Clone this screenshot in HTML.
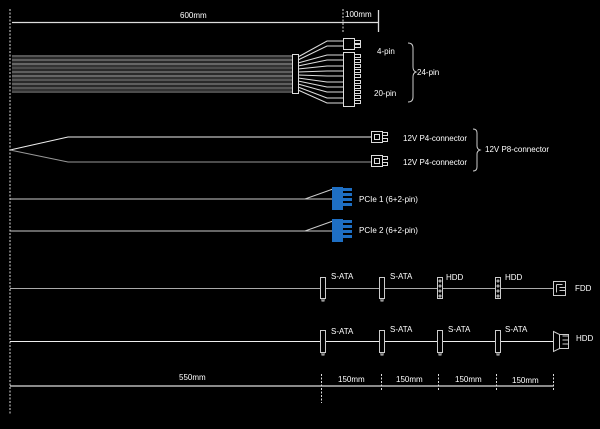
<!DOCTYPE html>
<html><head><style>
html,body{margin:0;padding:0;background:#000;}
svg{display:block}
text{font-family:"Liberation Sans",sans-serif;font-size:8px;fill:#fff;}
</style></head><body>
<svg width="600" height="429" viewBox="0 0 600 429" xmlns="http://www.w3.org/2000/svg">
<g stroke="#ddd" fill="none">
<line x1="10" y1="9" x2="10" y2="414" stroke-dasharray="2,1.5" stroke-width="1"/>
<line x1="12" y1="22.5" x2="378" y2="22.5" stroke-width="1.3"/>
<line x1="343" y1="9" x2="343" y2="32" stroke-dasharray="2,1.5"/>
<line x1="378.5" y1="10" x2="378.5" y2="32" stroke-width="1.3"/>
</g>
<text x="180" y="18">600mm</text>
<text x="345" y="17">100mm</text>
<g stroke-width="1">
<line x1="12" y1="56" x2="293" y2="56" stroke="#aaa"/>
<line x1="12" y1="58" x2="293" y2="58" stroke="#555"/>
<line x1="12" y1="60" x2="293" y2="60" stroke="#bbb"/>
<line x1="12" y1="62" x2="293" y2="62" stroke="#555"/>
<line x1="12" y1="64" x2="293" y2="64" stroke="#ccc"/>
<line x1="12" y1="66" x2="293" y2="66" stroke="#666"/>
<line x1="12" y1="68" x2="293" y2="68" stroke="#999"/>
<line x1="12" y1="70" x2="293" y2="70" stroke="#555"/>
<line x1="12" y1="72" x2="293" y2="72" stroke="#bbb"/>
<line x1="12" y1="74" x2="293" y2="74" stroke="#555"/>
<line x1="12" y1="76" x2="293" y2="76" stroke="#ccc"/>
<line x1="12" y1="78" x2="293" y2="78" stroke="#666"/>
<line x1="12" y1="80" x2="293" y2="80" stroke="#aaa"/>
<line x1="12" y1="82" x2="293" y2="82" stroke="#555"/>
<line x1="12" y1="84" x2="293" y2="84" stroke="#bbb"/>
<line x1="12" y1="86" x2="293" y2="86" stroke="#555"/>
<line x1="12" y1="88" x2="293" y2="88" stroke="#aaa"/>
<line x1="12" y1="90" x2="293" y2="90" stroke="#666"/>
<line x1="12" y1="92" x2="293" y2="92" stroke="#999"/>
</g>
<g stroke="#ddd" fill="none" stroke-width="1">
<rect x="292.5" y="54.5" width="6" height="39"/>
<path d="M298,57 L327,41 H343 M298,60 L327,46 H343"/>
<path d="M298,63 L327,55 H343 M298,66 L327,60 H343 M298,69 L327,66 H343 M298,72 L327,71 H343 M298,75 L327,76 H343 M298,78 L327,82 H343 M298,81 L327,87 H343 M298,84 L327,92 H343 M298,87 L327,98 H343 M298,90 L327,103 H343"/>
<rect x="343.5" y="38.5" width="11" height="11"/>
<rect x="343.5" y="52.5" width="11" height="54"/>
<path d="M354.5,40.5 h6 v3 h-6 M354.5,44.5 h6 v3 h-6"/>
<path d="M354.5,54.5 h6 v3 h-6 M354.5,59.5 h6 v3 h-6 M354.5,64.5 h6 v3 h-6 M354.5,69.5 h6 v3 h-6 M354.5,74.5 h6 v3 h-6 M354.5,80.5 h6 v3 h-6 M354.5,85.5 h6 v3 h-6 M354.5,90.5 h6 v3 h-6 M354.5,95.5 h6 v3 h-6 M354.5,100.5 h6 v3 h-6"/>
<path d="M408,43 q5,0 5,5 v19 q0,4 3,5 q-3,1 -3,5 v20 q0,5 -5,5" stroke="#ccc"/>
</g>
<text x="377" y="54">4-pin</text>
<text x="374" y="96">20-pin</text>
<text x="417" y="75">24-pin</text>
<g stroke="#ddd" fill="none" stroke-width="1">
<path d="M10,150 L68,137 H371" stroke="#eee"/>
<path d="M10,150 L68,162 H371" stroke="#999"/>
<rect x="371.5" y="131.5" width="11" height="11"/><rect x="374.5" y="134.5" width="5" height="5"/>
<path d="M382.5,132.5 h5 v3 h-5 M382.5,138.5 h5 v3 h-5"/>
<rect x="371.5" y="155.5" width="11" height="11"/><rect x="374.5" y="158.5" width="5" height="5"/>
<path d="M382.5,156.5 h5 v3 h-5 M382.5,162.5 h5 v3 h-5"/>
<path d="M473,129 q4,0 4,4 v13 q0,3 3,4 q-3,1 -3,4 v13 q0,4 -4,4" stroke="#ccc"/>
</g>
<text x="403" y="141">12V P4-connector</text>
<text x="403" y="165">12V P4-connector</text>
<text x="485" y="152">12V P8-connector</text>
<g stroke="#ccc" fill="none" stroke-width="1">
<path d="M10,199 H305 L333,189"/>
<path d="M305,199 H333" />
<path d="M10,231 H305 L333,221"/>
<path d="M305,231 H333"/>
</g>
<g fill="#1e6fc4">
<rect x="332" y="187" width="11" height="23"/>
<rect x="343" y="188" width="9" height="3"/><rect x="343" y="193" width="9" height="3"/><rect x="343" y="198" width="9" height="3"/><rect x="343" y="203" width="9" height="3"/>
<rect x="332" y="219" width="11" height="23"/>
<rect x="343" y="220" width="9" height="3"/><rect x="343" y="225" width="9" height="3"/><rect x="343" y="230" width="9" height="3"/><rect x="343" y="235" width="9" height="3"/>
</g>
<text x="359" y="202">PCIe 1 (6+2-pin)</text>
<text x="359" y="233">PCIe 2 (6+2-pin)</text>
<g stroke="#ccc" fill="none" stroke-width="1">
<line x1="10" y1="288.5" x2="553" y2="288.5" stroke="#aaa"/>
<rect x="320.5" y="277.5" width="5" height="21" fill="#000"/><path d="M322,299 v2 h2 v-2"/>
<rect x="379.5" y="277.5" width="5" height="21" fill="#000"/><path d="M381,299 v2 h2 v-2"/>
<rect x="437.5" y="277.5" width="5" height="21" fill="#000"/>
<circle cx="440" cy="281" r="1"/><circle cx="440" cy="286" r="1"/><circle cx="440" cy="291" r="1"/><circle cx="440" cy="296" r="1"/>
<rect x="495.5" y="277.5" width="5" height="21" fill="#000"/>
<circle cx="498" cy="281" r="1"/><circle cx="498" cy="286" r="1"/><circle cx="498" cy="291" r="1"/><circle cx="498" cy="296" r="1"/>
<rect x="553.5" y="281.5" width="12" height="14" fill="#000"/>
<path d="M556.5,284.5 h6 M556.5,284.5 v8 M559.5,287.5 h6 M559.5,290.5 h6"/>
</g>
<text x="331" y="279">S-ATA</text>
<text x="390" y="279">S-ATA</text>
<text x="446" y="280">HDD</text>
<text x="505" y="280">HDD</text>
<text x="575" y="291">FDD</text>
<g stroke="#ccc" fill="none" stroke-width="1">
<line x1="10" y1="341.5" x2="553" y2="341.5" stroke="#eee"/>
<rect x="320.5" y="330.5" width="5" height="22" fill="#000"/><path d="M322,353 v2 h2 v-2"/>
<rect x="379.5" y="330.5" width="5" height="22" fill="#000"/><path d="M381,353 v2 h2 v-2"/>
<rect x="437.5" y="330.5" width="5" height="22" fill="#000"/><path d="M439,353 v2 h2 v-2"/>
<rect x="495.5" y="330.5" width="5" height="22" fill="#000"/><path d="M497,353 v2 h2 v-2"/>
<path d="M553.5,331.5 L559.5,334.5 H568.5 V348.5 H559.5 L553.5,351.5 Z" fill="#000"/>
<path d="M559.5,334.5 V348.5 M562.5,336 h6 M562.5,340 h6 M562.5,344 h6"/>
</g>
<text x="331" y="334">S-ATA</text>
<text x="390" y="332">S-ATA</text>
<text x="448" y="332">S-ATA</text>
<text x="505" y="332">S-ATA</text>
<text x="576" y="341">HDD</text>
<g stroke="#ddd" fill="none">
<line x1="10" y1="386" x2="553" y2="386" stroke-width="1.3"/>
<g stroke-dasharray="2,1.5"><line x1="321.5" y1="374" x2="321.5" y2="403"/><line x1="381.5" y1="374" x2="381.5" y2="390"/><line x1="438.5" y1="374" x2="438.5" y2="390"/><line x1="496.5" y1="374" x2="496.5" y2="390"/><line x1="553.5" y1="374" x2="553.5" y2="390"/></g>
</g>
<text x="179" y="380">550mm</text>
<text x="338" y="382">150mm</text>
<text x="396" y="382">150mm</text>
<text x="455" y="382">150mm</text>
<text x="512" y="383">150mm</text>
</svg>
</body></html>
